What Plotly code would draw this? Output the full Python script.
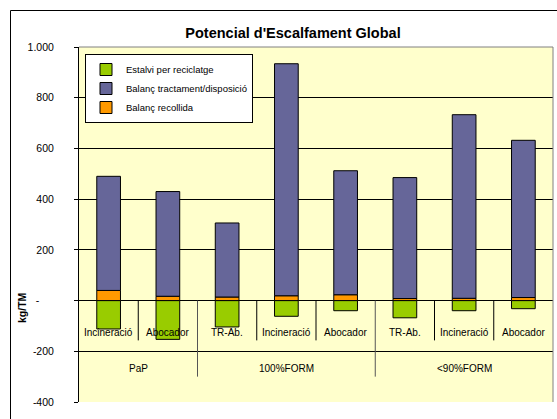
import plotly.graph_objects as go

groups = ["PaP", "PaP", "100%FORM", "100%FORM", "100%FORM", "<90%FORM", "<90%FORM", "<90%FORM"]
subs = ["Incineració", "Abocador", "TR-Ab.", "Incineració", "Abocador", "TR-Ab.", "Incineració", "Abocador"]

estalvi = [-112, -153, -104, -62, -40, -68, -40, -32]
recollida = [40, 17, 14, 19, 23, 8, 9, 12]
tractament = [450, 413, 292, 915, 489, 477, 724, 620]

ytickvals = [-400, -200, 0, 200, 400, 600, 800, 1000]
yticktext = ["-400", "-200", "-" + "\u00a0" * 5, "200", "400", "600", "800", "1.000"]

FONT = "Liberation Sans, Arial"
L, R, T, B = 79, 4, 47, 17
W, H = 557, 419
PW, PH = W - L - R, H - T - B

xs = list(range(len(subs)))

fig = go.Figure()
fig.add_trace(go.Bar(x=xs, y=estalvi, name="Estalvi per reciclatge", marker_color="#99CC00",
                     marker_line=dict(color="black", width=1), legendrank=1))
fig.add_trace(go.Bar(x=xs, y=recollida, name="Balanç recollida", marker_color="#FF9900",
                     marker_line=dict(color="black", width=1), legendrank=3))
fig.add_trace(go.Bar(x=xs, y=tractament, name="Balanç tractament/disposició", marker_color="#666699",
                     marker_line=dict(color="black", width=1), legendrank=2))

fig.update_layout(
    width=W, height=H,
    margin=dict(l=L, r=R, t=T, b=B, autoexpand=False),
    paper_bgcolor="white",
    plot_bgcolor="#FFFFCC",
    barmode="relative",
    bargap=0.6,
    font=dict(family=FONT, size=10, color="black"),
    title=dict(text="<b>Potencial d'Escalfament Global</b>", x=293 / W, xanchor="center",
               y=1 - 33 / H, yanchor="middle", font=dict(size=14.5)),
    legend=dict(x=(85 - L) / PW, y=1 - (54 - T) / PH, xanchor="left", yanchor="top", bgcolor="white",
                bordercolor="black", borderwidth=1, font=dict(size=9.5),
                tracegroupgap=0, itemwidth=30),
    showlegend=True,
)
fig.update_yaxes(range=[-400, 1000], tickvals=ytickvals, ticktext=yticktext,
                 showgrid=True, gridcolor="black", gridwidth=1,
                 zeroline=True, zerolinecolor="black", zerolinewidth=1,
                 showline=True, linecolor="black", linewidth=1,
                 ticks="outside", ticklen=4, tickcolor="black",
                 ticklabelstandoff=18, automargin=False,
                 tickfont=dict(size=10.5))
fig.update_xaxes(range=[-0.5, len(subs) - 0.5], showticklabels=False, ticks="",
                 showgrid=False, zeroline=False, showline=False, automargin=False)

# category labels along the zero line
for i, s in enumerate(subs):
    fig.add_annotation(x=i, y=0, xref="x", yref="y", text=s, showarrow=False,
                       yanchor="middle", yshift=-32, font=dict(size=10))
    if i > 0:
        same = groups[i] == groups[i - 1]
        fig.add_shape(type="line", xref="x", yref="y", x0=i - 0.5, x1=i - 0.5,
                      y0=0, y1=-157 if same else -300,
                      line=dict(color="black" if same else "#555555", width=1))

# group labels
seen = []
for g in groups:
    if g not in seen:
        seen.append(g)
for g in seen:
    idx = [i for i, gg in enumerate(groups) if gg == g]
    fig.add_annotation(x=sum(idx) / len(idx), y=0, xref="x", yref="y", text=g.replace("<", "&lt;"),
                       showarrow=False, yanchor="middle", yshift=-68, font=dict(size=10))

# axis title
fig.add_annotation(x=(22 - L) / PW, y=(H - B - 308) / PH, xref="paper", yref="paper",
                   text="<b>kg/TM</b>", textangle=-90, showarrow=False,
                   xanchor="center", yanchor="middle", font=dict(size=10.5))

# plot-area top/right border (grey)
fig.add_shape(type="line", xref="paper", yref="paper", x0=0, x1=1, y0=1, y1=1,
              line=dict(color="#808080", width=1))
fig.add_shape(type="line", xref="paper", yref="paper", x0=1, x1=1, y0=0, y1=1,
              line=dict(color="#808080", width=1))

# outer chart border
fig.add_shape(type="rect", xref="paper", yref="paper",
              x0=(10.5 - L) / PW, x1=(W + 5 - L) / PW,
              y0=-(B + 5) / PH, y1=1 + (T - 10.5) / PH,
              line=dict(color="black", width=1), layer="above")

fig.write_html("out.html", config={"displayModeBar": False},
               post_script="document.body.style.margin='0';")
